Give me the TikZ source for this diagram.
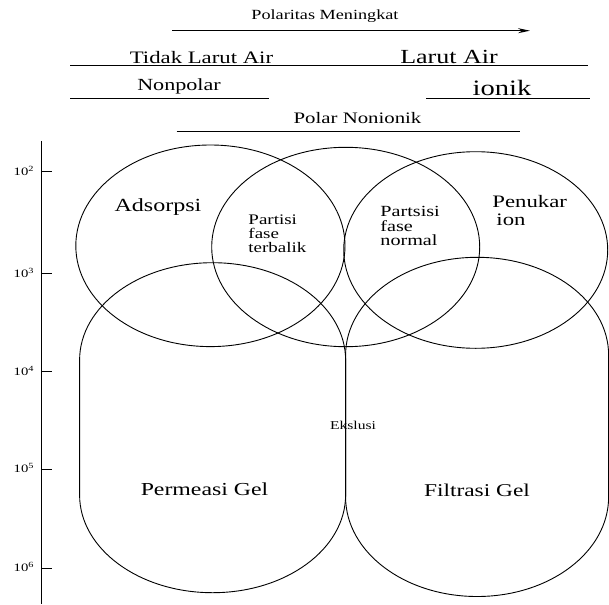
\documentclass[tikz,border=0pt]{standalone}
\usepackage{fontspec}
\setmainfont{Liberation Serif}[FakeStretch=1.3]
\usetikzlibrary{arrows.meta}

\begin{document}
\begin{tikzpicture}
	[x=1pt,y=-1pt,line width=0.9pt,
	every node/.style={inner sep=0pt},
	lbl/.style={anchor=base},
	rule/.style={line width=0.8pt},
	blob/.style={line width=0.9pt},
	edge/.style={-{Stealth[length=12pt,width=5pt]},line width=1pt}]
	\useasboundingbox (0,0) rectangle (609,604);
	\clip (0,0) rectangle (609,604);
	
	% heading and polarity bands
	\node[lbl,font=\fontsize{14}{14}\selectfont] (pol) at (325,19.5) {Polaritas Meningkat};
	\coordinate (pa) at (172,30.7);
	\coordinate (pb) at (530,30.7);
	\draw[edge] (pa) -- (pb);
	
	\node[lbl,font=\fontsize{17.5}{18}\selectfont] (tla) at (201.5,64) {Tidak Larut Air};
	\node[lbl,font=\fontsize{20}{20}\selectfont] (la) at (449,63.3) {Larut Air};
	\coordinate (ra) at (70,66);
	\coordinate (rb) at (588,66);
	\draw[rule,line width=1pt] (ra) -- (rb);
	
	\node[lbl,font=\fontsize{17}{17}\selectfont] (np) at (179,90.7) {Nonpolar};
	\coordinate (na) at (70,98.3);
	\coordinate (nb) at (268.7,98.3);
	\draw[rule] (na) -- (nb);
	
	\node[lbl,font=\fontsize{22}{22}\selectfont] (ion) at (502,96) {ionik};
	\coordinate (ia) at (426,98.3);
	\coordinate (ib) at (589.5,98.3);
	\draw[rule] (ia) -- (ib);
	
	\node[lbl,font=\fontsize{16}{16}\selectfont] (pnn) at (357.5,124) {Polar Nonionik};
	\coordinate (qa) at (176.7,131.7);
	\coordinate (qb) at (520.4,131.7);
	\draw[rule] (qa) -- (qb);
	
	% size axis
	\coordinate (atop) at (41.7,141);
	\coordinate (abot) at (41.7,604);
	\draw[line width=1.1pt] (atop) -- (abot);
	\foreach \yy/\ee in {171.7/2,273.5/3,371.7/4,469.3/5,568.3/6}{
		\coordinate (t\ee) at (41.7,\yy);
		\draw[line width=1pt] (t\ee) -- ++(10,0);
		\node[anchor=base east,font=\fontsize{11.3}{12}\selectfont] (e\ee) at (34.5,\yy+3.5) {10\textsuperscript{\ee}};
	}
	
	% method regions
	\draw[blob] (210.4,245.8) ellipse [x radius=134.6pt, y radius=100.8pt];
	\draw[blob] (345.7,247) ellipse [x radius=134pt, y radius=99.7pt];
	\draw[blob] (475.7,250) ellipse [x radius=132pt, y radius=98.3pt];
	\draw[blob] (79.6,495) -- (79.6,360)
		arc [start angle=180, end angle=0, x radius=133pt, y radius=97.3pt]
		-- (345.6,495)
		arc [start angle=0, end angle=-180, x radius=133pt, y radius=97.7pt] -- cycle;
	\draw[blob] (345.6,497) -- (345.6,355)
		arc [start angle=180, end angle=0, x radius=131.5pt, y radius=97.7pt]
		-- (608.6,497)
		arc [start angle=0, end angle=-180, x radius=131.5pt, y radius=99.5pt] -- cycle;
	
	\node[lbl,font=\fontsize{18.5}{18.5}\selectfont] (ads) at (158,211.7) {Adsorpsi};
	\node[anchor=west,align=left,font=\fontsize{14.6}{14}\selectfont] (pfr) at (248,234) {Partisi\\fase\\terbalik};
	\node[anchor=west,align=left,font=\fontsize{15.5}{14.5}\selectfont] (pfn) at (380,226) {Partsisi\\fase\\normal};
	\node[anchor=west,align=left,font=\fontsize{17.5}{18}\selectfont] (pion) at (492,211) {Penukar\\\hspace*{4pt}ion};
	\node[lbl,font=\fontsize{12}{12}\selectfont] (eks) at (353,429.3) {Ekslusi};
	\node[lbl,font=\fontsize{18.3}{18.3}\selectfont] (pg) at (204.5,495.7) {Permeasi Gel};
	\node[lbl,font=\fontsize{18}{18}\selectfont] (fg) at (477,496.7) {Filtrasi Gel};
\end{tikzpicture}
\end{document}
